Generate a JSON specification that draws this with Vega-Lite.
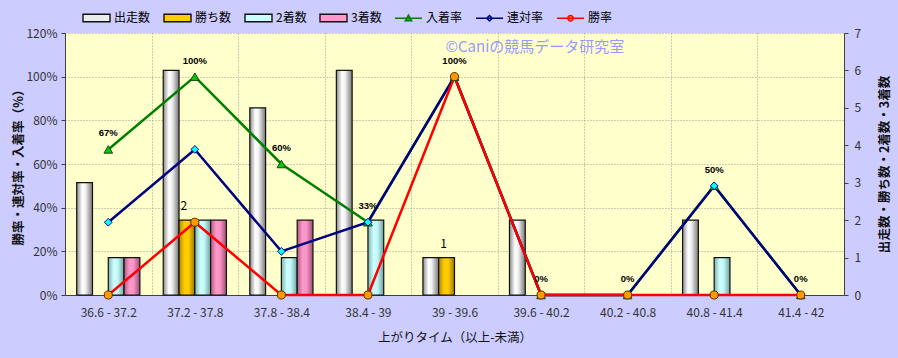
{
  "$schema": "https://vega.github.io/schema/vega-lite/v6.json",
  "autosize": "none",
  "width": 779,
  "height": 262,
  "padding": {"left": 65, "top": 33, "right": 54, "bottom": 63},
  "background": "#CCCCFF",
  "config": {
    "view": {"fill": "#FFFFCC", "stroke": null},
    "font": "Noto Sans CJK JP",
    "axis": {"labelFont": "Noto Sans CJK JP", "titleFont": "Noto Sans CJK JP", "labelFontSize": 12, "titleFontSize": 12.5, "labelColor": "#333333", "titleColor": "#111111", "titleFontWeight": "bold", "domainColor": "#404040", "tickColor": "#404040"}
  },
  "datasets": {
    "bars": [
      {"range": "36.6 - 37.2", "series": "出走数", "count": 3},
      {"range": "36.6 - 37.2", "series": "勝ち数", "count": 0},
      {"range": "36.6 - 37.2", "series": "2着数", "count": 1},
      {"range": "36.6 - 37.2", "series": "3着数", "count": 1},
      {"range": "37.2 - 37.8", "series": "出走数", "count": 6},
      {"range": "37.2 - 37.8", "series": "勝ち数", "count": 2},
      {"range": "37.2 - 37.8", "series": "2着数", "count": 2},
      {"range": "37.2 - 37.8", "series": "3着数", "count": 2},
      {"range": "37.8 - 38.4", "series": "出走数", "count": 5},
      {"range": "37.8 - 38.4", "series": "勝ち数", "count": 0},
      {"range": "37.8 - 38.4", "series": "2着数", "count": 1},
      {"range": "37.8 - 38.4", "series": "3着数", "count": 2},
      {"range": "38.4 - 39", "series": "出走数", "count": 6},
      {"range": "38.4 - 39", "series": "勝ち数", "count": 0},
      {"range": "38.4 - 39", "series": "2着数", "count": 2},
      {"range": "38.4 - 39", "series": "3着数", "count": 0},
      {"range": "39 - 39.6", "series": "出走数", "count": 1},
      {"range": "39 - 39.6", "series": "勝ち数", "count": 1},
      {"range": "39 - 39.6", "series": "2着数", "count": 0},
      {"range": "39 - 39.6", "series": "3着数", "count": 0},
      {"range": "39.6 - 40.2", "series": "出走数", "count": 2},
      {"range": "39.6 - 40.2", "series": "勝ち数", "count": 0},
      {"range": "39.6 - 40.2", "series": "2着数", "count": 0},
      {"range": "39.6 - 40.2", "series": "3着数", "count": 0},
      {"range": "40.2 - 40.8", "series": "出走数", "count": 0},
      {"range": "40.2 - 40.8", "series": "勝ち数", "count": 0},
      {"range": "40.2 - 40.8", "series": "2着数", "count": 0},
      {"range": "40.2 - 40.8", "series": "3着数", "count": 0},
      {"range": "40.8 - 41.4", "series": "出走数", "count": 2},
      {"range": "40.8 - 41.4", "series": "勝ち数", "count": 0},
      {"range": "40.8 - 41.4", "series": "2着数", "count": 1},
      {"range": "40.8 - 41.4", "series": "3着数", "count": 0},
      {"range": "41.4 - 42", "series": "出走数", "count": 0},
      {"range": "41.4 - 42", "series": "勝ち数", "count": 0},
      {"range": "41.4 - 42", "series": "2着数", "count": 0},
      {"range": "41.4 - 42", "series": "3着数", "count": 0}
    ],
    "rates": [
      {"range": "36.6 - 37.2", "series": "入着率", "rate": 0.6667},
      {"range": "37.2 - 37.8", "series": "入着率", "rate": 1.0},
      {"range": "37.8 - 38.4", "series": "入着率", "rate": 0.6},
      {"range": "38.4 - 39", "series": "入着率", "rate": 0.3333},
      {"range": "39 - 39.6", "series": "入着率", "rate": 1.0},
      {"range": "39.6 - 40.2", "series": "入着率", "rate": 0},
      {"range": "40.2 - 40.8", "series": "入着率", "rate": 0},
      {"range": "40.8 - 41.4", "series": "入着率", "rate": 0.5},
      {"range": "41.4 - 42", "series": "入着率", "rate": 0},
      {"range": "36.6 - 37.2", "series": "連対率", "rate": 0.3333},
      {"range": "37.2 - 37.8", "series": "連対率", "rate": 0.6667},
      {"range": "37.8 - 38.4", "series": "連対率", "rate": 0.2},
      {"range": "38.4 - 39", "series": "連対率", "rate": 0.3333},
      {"range": "39 - 39.6", "series": "連対率", "rate": 1.0},
      {"range": "39.6 - 40.2", "series": "連対率", "rate": 0},
      {"range": "40.2 - 40.8", "series": "連対率", "rate": 0},
      {"range": "40.8 - 41.4", "series": "連対率", "rate": 0.5},
      {"range": "41.4 - 42", "series": "連対率", "rate": 0},
      {"range": "36.6 - 37.2", "series": "勝率", "rate": 0},
      {"range": "37.2 - 37.8", "series": "勝率", "rate": 0.3333},
      {"range": "37.8 - 38.4", "series": "勝率", "rate": 0},
      {"range": "38.4 - 39", "series": "勝率", "rate": 0},
      {"range": "39 - 39.6", "series": "勝率", "rate": 1.0},
      {"range": "39.6 - 40.2", "series": "勝率", "rate": 0},
      {"range": "40.2 - 40.8", "series": "勝率", "rate": 0},
      {"range": "40.8 - 41.4", "series": "勝率", "rate": 0},
      {"range": "41.4 - 42", "series": "勝率", "rate": 0}
    ],
    "watermark": [
      {"label": "©Caniの競馬データ研究室"}
    ]
  },
  "encoding": {
    "x": {
      "field": "range", "type": "nominal", "sort": null,
      "scale": {"domain": ["36.6 - 37.2", "37.2 - 37.8", "37.8 - 38.4", "38.4 - 39", "39 - 39.6", "39.6 - 40.2", "40.2 - 40.8", "40.8 - 41.4", "41.4 - 42"], "paddingInner": 0, "paddingOuter": 0},
      "axis": {"title": "上がりタイム（以上-未満）", "titleFontWeight": "normal", "labelAngle": 0, "ticks": false, "labelPadding": 12, "titlePadding": 13, "tickBand": "extent", "grid": true, "gridColor": "#9a9a9a", "gridDash": [1, 2], "domainColor": "#404040"}
    }
  },
  "layer": [
    {
      "data": {"name": "bars"},
      "encoding": {
        "xOffset": {"field": "series", "type": "nominal", "scale": {"domain": ["出走数", "勝ち数", "2着数", "3着数"], "paddingInner": 0, "paddingOuter": 0.74}},
        "y": {"field": "count", "type": "quantitative", "scale": {"domain": [0, 7], "nice": false}, "axis": {"orient": "right", "title": "出走数・勝ち数・2着数・3着数", "titleAngle": 270, "values": [0, 1, 2, 3, 4, 5, 6, 7], "grid": false, "tickSize": 4, "labelPadding": 6, "titlePadding": 31}}
      },
      "layer": [
        {
          "transform": [{"filter": "datum.series === '出走数' && datum.count > 0"}],
          "mark": {"type": "bar", "stroke": "#111111", "strokeWidth": 1.2, "fill": {"gradient": "linear", "x1": 0, "y1": 0, "x2": 1, "y2": 0, "stops": [{"offset": 0, "color": "#8a8a8a"}, {"offset": 0.35, "color": "#ffffff"}, {"offset": 0.55, "color": "#f2f2f2"}, {"offset": 1, "color": "#777777"}]}}
        },
        {
          "transform": [{"filter": "datum.series === '勝ち数' && datum.count > 0"}],
          "mark": {"type": "bar", "stroke": "#111111", "strokeWidth": 1.2, "fill": {"gradient": "linear", "x1": 0, "y1": 0, "x2": 1, "y2": 0, "stops": [{"offset": 0, "color": "#b08800"}, {"offset": 0.35, "color": "#ffcc00"}, {"offset": 0.6, "color": "#ffcc00"}, {"offset": 1, "color": "#9a7600"}]}}
        },
        {
          "transform": [{"filter": "datum.series === '2着数' && datum.count > 0"}],
          "mark": {"type": "bar", "stroke": "#111111", "strokeWidth": 1.2, "fill": {"gradient": "linear", "x1": 0, "y1": 0, "x2": 1, "y2": 0, "stops": [{"offset": 0, "color": "#7fb0b0"}, {"offset": 0.35, "color": "#ccffff"}, {"offset": 0.6, "color": "#c4f8f8"}, {"offset": 1, "color": "#6f9f9f"}]}}
        },
        {
          "transform": [{"filter": "datum.series === '3着数' && datum.count > 0"}],
          "mark": {"type": "bar", "stroke": "#111111", "strokeWidth": 1.2, "fill": {"gradient": "linear", "x1": 0, "y1": 0, "x2": 1, "y2": 0, "stops": [{"offset": 0, "color": "#b05a80"}, {"offset": 0.35, "color": "#ff99cc"}, {"offset": 0.6, "color": "#f894c6"}, {"offset": 1, "color": "#9c4e74"}]}}
        },
        {
          "transform": [{"filter": "datum.series === '勝ち数' && datum.count > 0"}],
          "mark": {"type": "text", "fontSize": 12, "color": "#000000", "baseline": "middle", "dy": -14, "dx": -3, "font": "Noto Sans CJK JP"},
          "encoding": {"text": {"field": "count", "type": "quantitative"}}
        }
      ]
    },
    {
      "data": {"name": "rates"},
      "encoding": {
        "y": {"field": "rate", "type": "quantitative", "scale": {"domain": [0, 1.2], "nice": false}, "axis": {"orient": "left", "title": "勝率・連対率・入着率（%）", "format": ".0%", "values": [0, 0.2, 0.4, 0.6, 0.8, 1.0, 1.2], "grid": true, "gridColor": "#9a9a9a", "gridDash": [1, 2], "tickSize": 4, "labelPadding": 4, "titlePadding": 0}}
      },
      "layer": [
        {
          "transform": [{"filter": "datum.series === '入着率'"}],
          "mark": {"type": "line", "stroke": "#008000", "strokeWidth": 2.5}
        },
        {
          "transform": [{"filter": "datum.series === '連対率'"}],
          "mark": {"type": "line", "stroke": "#000080", "strokeWidth": 2.5}
        },
        {
          "transform": [{"filter": "datum.series === '勝率'"}],
          "mark": {"type": "line", "stroke": "#ff0000", "strokeWidth": 2.5}
        },
        {
          "transform": [{"filter": "datum.series === '入着率'"}],
          "mark": {"type": "point", "shape": "triangle-up", "filled": true, "fill": "#00cc00", "opacity": 1, "stroke": "#204020", "strokeWidth": 1, "size": 75}
        },
        {
          "transform": [{"filter": "datum.series === '連対率'"}],
          "mark": {"type": "point", "shape": "diamond", "filled": true, "fill": "#00ffff", "opacity": 1, "stroke": "#000080", "strokeWidth": 1, "size": 60}
        },
        {
          "transform": [{"filter": "datum.series === '勝率'"}],
          "mark": {"type": "point", "shape": "circle", "filled": true, "fill": "#ff9900", "opacity": 1, "stroke": "#553300", "strokeWidth": 1, "size": 65}
        },
        {
          "transform": [{"filter": "false"}],
          "mark": {"type": "point", "filled": true, "opacity": 1, "strokeWidth": 1.4},
          "encoding": {
            "color": {
              "field": "series", "type": "nominal",
              "scale": {"domain": ["出走数", "勝ち数", "2着数", "3着数", "入着率", "連対率", "勝率"], "range": ["#ececec", "#ffcc00", "#ccffff", "#ff99cc", "#00cc00", "#00ffff", "#ff9900"]},
              "legend": {
                "title": null, "orient": "none", "legendX": 17, "legendY": -30, "direction": "horizontal", "columns": 7,
                "symbolSize": 729, "symbolStrokeWidth": 1.4, "labelFont": "Noto Sans CJK JP", "labelFontSize": 12, "labelColor": "#000000", "labelOffset": 3, "columnPadding": 10
              }
            },
            "shape": {
              "field": "series", "type": "nominal",
              "scale": {"domain": ["出走数", "勝ち数", "2着数", "3着数", "入着率", "連対率", "勝率"], "range": ["M-1,-0.28H1V0.28H-1Z", "M-1,-0.28H1V0.28H-1Z", "M-1,-0.28H1V0.28H-1Z", "M-1,-0.28H1V0.28H-1Z", "M-1,0H1M0,-0.24L0.24,0.19L-0.24,0.19Z", "M-1,0H1M0,-0.21L0.21,0L0,0.21L-0.21,0Z", "M-1,0H1M-0.2,0A0.2,0.2 0 1,0 0.2,0A0.2,0.2 0 1,0 -0.2,0Z"]},
              "legend": {
                "title": null, "orient": "none", "legendX": 17, "legendY": -30, "direction": "horizontal", "columns": 7,
                "symbolSize": 729, "symbolStrokeWidth": 1.4, "labelFont": "Noto Sans CJK JP", "labelFontSize": 12, "labelColor": "#000000", "labelOffset": 3, "columnPadding": 10
              }
            },
            "stroke": {
              "field": "series", "type": "nominal",
              "scale": {"domain": ["出走数", "勝ち数", "2着数", "3着数", "入着率", "連対率", "勝率"], "range": ["#111111", "#111111", "#111111", "#111111", "#008000", "#000080", "#ff0000"]},
              "legend": {
                "title": null, "orient": "none", "legendX": 17, "legendY": -30, "direction": "horizontal", "columns": 7,
                "symbolSize": 729, "symbolStrokeWidth": 1.4, "labelFont": "Noto Sans CJK JP", "labelFontSize": 12, "labelColor": "#000000", "labelOffset": 3, "columnPadding": 10
              }
            }
          }
        },
        {
          "transform": [{"filter": "datum.series === '入着率'"}],
          "mark": {"type": "text", "font": "Liberation Sans", "fontWeight": "bold", "fontSize": 9.5, "color": "#000000", "baseline": "middle", "dy": -16},
          "encoding": {"text": {"field": "rate", "type": "quantitative", "format": ".0%"}}
        }
      ]
    },
    {
      "data": {"name": "watermark"},
      "mark": {"type": "text", "align": "left", "baseline": "middle", "dx": -9, "fontSize": 15, "color": "#9999ff", "font": "Noto Sans CJK JP"},
      "encoding": {
        "x": {"datum": "39 - 39.6", "type": "nominal"},
        "y": {"datum": 1.135, "type": "quantitative", "scale": {"domain": [0, 1.2], "nice": false}, "axis": null},
        "text": {"field": "label", "type": "nominal"}
      }
    }
  ],
  "resolve": {"scale": {"y": "independent"}}
}
